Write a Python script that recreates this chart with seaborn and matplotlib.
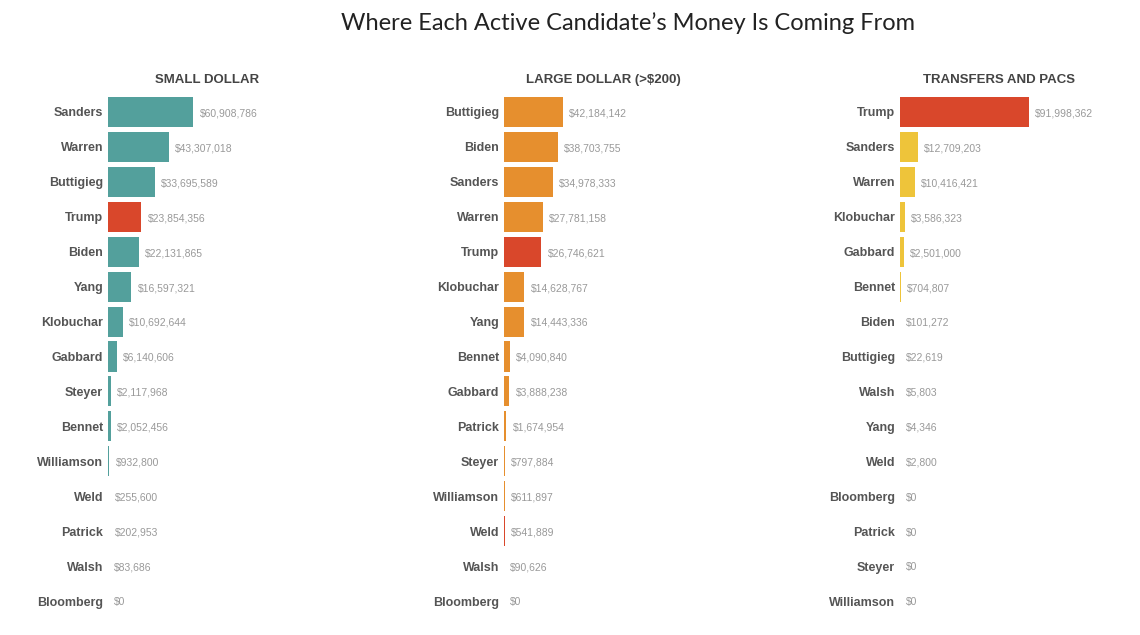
import matplotlib
matplotlib.use("Agg")
import matplotlib.pyplot as plt
import seaborn as sns
import pandas as pd

# ---- data ----
small_names = ["Sanders", "Warren", "Buttigieg", "Trump", "Biden", "Yang", "Klobuchar",
               "Gabbard", "Steyer", "Bennet", "Williamson", "Weld", "Patrick", "Walsh", "Bloomberg"]
small_values = [60908786, 43307018, 33695589, 23854356, 22131865, 16597321, 10692644,
                6140606, 2117968, 2052456, 932800, 255600, 202953, 83686, 0]

large_names = ["Buttigieg", "Biden", "Sanders", "Warren", "Trump", "Klobuchar", "Yang",
               "Bennet", "Gabbard", "Patrick", "Steyer", "Williamson", "Weld", "Walsh", "Bloomberg"]
large_values = [42184142, 38703755, 34978333, 27781158, 26746621, 14628767, 14443336,
                4090840, 3888238, 1674954, 797884, 611897, 541889, 90626, 0]

transfer_names = ["Trump", "Sanders", "Warren", "Klobuchar", "Gabbard", "Bennet", "Biden",
                  "Buttigieg", "Walsh", "Yang", "Weld", "Bloomberg", "Patrick", "Steyer", "Williamson"]
transfer_values = [91998362, 12709203, 10416421, 3586323, 2501000, 704807, 101272,
                   22619, 5803, 4346, 2800, 0, 0, 0, 0]

panel_titles = ["SMALL DOLLAR", "LARGE DOLLAR (>$200)", "TRANSFERS AND PACS"]
republicans = ["Trump", "Weld", "Walsh"]
title = "Where Each Active Candidate\u2019s Money Is Coming From"

# ---- style ----
sns.set_theme(style="white")
plt.rcParams["font.family"] = ["Liberation Sans", "DejaVu Sans"]

panel_colors = ["#53a09c", "#e68f2e", "#eec43a"]
red = "#d9472b"
name_color = "#555555"
value_color = "#999999"

fig = plt.figure(figsize=(11.4, 6.35), dpi=100)
W, H = 1140, 635
ax_w = 198
ax_top, ax_bot = 94.5, 618.5
lefts = [108, 504, 900]
XMAX = ax_w / 1.4e-6

panels = [(small_names, small_values), (large_names, large_values), (transfer_names, transfer_values)]

for k, ((names, vals), left) in enumerate(zip(panels, lefts)):
    ax = fig.add_axes([left / W, (H - ax_bot) / H, ax_w / W, (ax_bot - ax_top) / H])
    df = pd.DataFrame({"name": names, "value": vals})
    pal = {n: (red if n in republicans else panel_colors[k]) for n in names}
    sns.barplot(data=df, x="value", y="name", hue="name", palette=pal, legend=False,
                orient="h", width=0.86, ax=ax, saturation=1, linewidth=0)
    ax.set_xlim(0, XMAX)
    ax.set_ylim(len(names) - 0.5, -0.5)
    ax.set_xlabel("")
    ax.set_ylabel("")
    ax.set_xticks([])
    for s in ax.spines.values():
        s.set_visible(False)
    ax.tick_params(axis="y", length=0, pad=3.5)
    ax.set_yticks(range(len(names)))
    ax.set_yticklabels(names, fontsize=9, fontweight="bold", color=name_color)
    for i, v in enumerate(vals):
        ax.annotate(f"${v:,}", xy=(v, i), xytext=(4.5, -1), textcoords="offset points",
                    va="center", ha="left", fontsize=7.5, color=value_color)
    ax.set_title(panel_titles[k], fontsize=9.5, fontweight="bold", color="#444444", pad=8)

fig.text(628 / W, 1 - 23 / H, title, ha="center", va="center", fontsize=17,
         color="#222222", family=["Lato", "DejaVu Sans"])

fig.savefig("out.png", dpi=100, facecolor="white")
